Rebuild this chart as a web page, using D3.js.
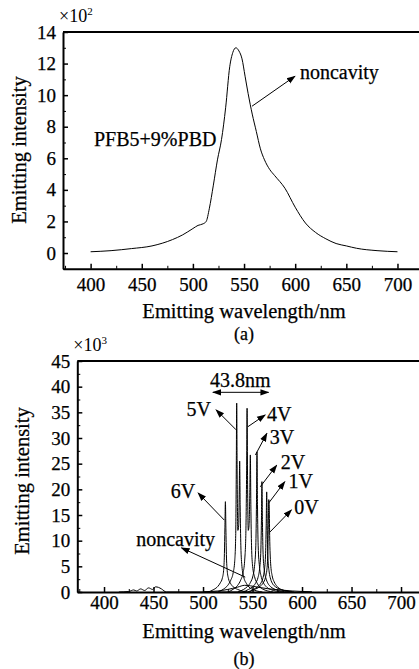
<!DOCTYPE html>
<html>
<head>
<meta charset="utf-8">
<script src="https://cdn.jsdelivr.net/npm/d3@7"></script>
<style>
  body { margin: 0; background: #fff; }
</style>
</head>
<body>
<div id="chart"></div>
<script>
/* two emission spectra: (a) noncavity, (b) cavity at different voltages */

// (a) noncavity spectrum, x10^2
const wlA  = [400, 420, 440, 460, 480, 490, 500, 505, 510, 513, 516, 520, 524, 528, 532, 536, 539, 542, 545, 548, 551, 554, 558, 562, 566, 570, 575, 580, 590, 600, 610, 620, 630, 640, 650, 660, 680, 700];
const valA = [0.08, 0.15, 0.28, 0.45, 0.85, 1.15, 1.55, 1.75, 1.85, 2.0, 2.8, 4.3, 5.9, 7.2, 9.2, 11.8, 12.7, 13.0, 12.8, 12.3, 11.2, 10.1, 8.8, 7.7, 6.6, 5.9, 5.3, 4.9, 4.1, 2.9, 1.9, 1.3, 0.9, 0.6, 0.45, 0.3, 0.15, 0.08];

// (b) cavity spectra, x10^3
const wl6 = [505, 511, 515, 517.5, 519.5, 520.8, 521.6, 522.1, 522.6, 523.1, 523.6, 524.4, 525.7, 527.7, 530.5, 535, 545];
const v6  = [0, 0.5, 1.1, 1.8, 2.7, 4.2, 7.5, 12.5, 17.6, 12.3, 7.3, 4.2, 2.6, 1.7, 1.0, 0.5, 0];
const wl5 = [515, 521, 525, 528, 530.5, 532, 533, 533.6, 534, 534.5, 535.2, 536, 536.6, 537, 537.5, 538.2, 539.3, 541, 544, 549, 560];
const v5  = [0, 0.6, 1.3, 2.3, 3.8, 6, 11, 24, 36.8, 22, 12, 13, 19.5, 25.5, 17, 9, 5, 3, 1.6, 0.6, 0];
const wl4 = [525, 531, 535, 538, 540.5, 542, 543.2, 544, 544.5, 545, 545.7, 546.5, 547.3, 547.8, 548.3, 549, 550.1, 552, 555, 560, 571];
const v4  = [0, 0.6, 1.3, 2.3, 3.8, 6, 11, 23, 35.8, 21, 12, 13, 20, 26.7, 17, 9, 5, 3, 1.6, 0.6, 0];
const wl3 = [535, 541, 545, 548, 550.5, 552, 553.3, 554, 554.5, 555, 555.7, 557, 558.5, 560.5, 563.5, 568, 580];
const v3  = [0, 0.5, 1.1, 1.9, 3.2, 5, 9, 17.5, 27.3, 17, 9, 5, 3.2, 2.0, 1.1, 0.5, 0];
const wl2 = [540, 546, 550, 553, 555.5, 557, 558.3, 559, 559.5, 560, 560.7, 562, 563.5, 565.5, 568.5, 573, 585];
const v2  = [0, 0.5, 1.0, 1.7, 2.8, 4.3, 7.5, 14, 21.5, 13.7, 7.3, 4.1, 2.7, 1.7, 1.0, 0.5, 0];
const wl1 = [545, 551, 555, 558, 560.3, 561.8, 563.1, 563.8, 564.3, 564.8, 565.5, 566.8, 568.3, 570.3, 573.3, 578, 590];
const v1  = [0, 0.5, 1.0, 1.6, 2.6, 4, 7, 13, 19.5, 13, 6.8, 3.9, 2.5, 1.6, 1.0, 0.5, 0];
const wl0 = [415, 425, 430, 433, 437, 441, 445, 449, 452, 455, 458, 463, 545, 552, 557, 560.5, 563, 564.6, 565.6, 566.1, 566.4, 566.8, 567.3, 568.3, 569.8, 571.8, 574.8, 579, 592];
const v0  = [0, 0.1, 0.4, 0.2, 0.6, 0.3, 0.8, 0.5, 1.0, 0.9, 0.6, 0, 0, 0.5, 1.0, 1.7, 2.8, 4.5, 9, 15.5, 18, 17, 11, 5.5, 3.2, 2.0, 1.1, 0.5, 0];
const wlNb = [500, 515, 525, 535, 542, 548, 555, 565, 575, 590, 610];
const vNb  = [0.05, 0.2, 0.5, 0.95, 1.3, 1.2, 0.95, 0.65, 0.45, 0.2, 0.05];

const xTicks = [400, 450, 500, 550, 600, 650, 700];
const xMinor = [375, 425, 475, 525, 575, 625, 675, 725];
const yTicksA = [0, 2, 4, 6, 8, 10, 12, 14];
const yTicksB = [0, 5, 10, 15, 20, 25, 30, 35, 40, 45];
const voltLabels = ["0V", "1V", "2V", "3V", "4V", "5V", "6V"];

const FONT = "Liberation Serif";
const width = 419, height = 669;
const svg = d3.select("#chart").append("svg")
    .attr("width", width)
    .attr("height", height)
    .attr("font-family", FONT)
    .style("display", "block");

svg.append("defs").append("marker")
    .attr("id", "head")
    .attr("viewBox", "0 0 10 10")
    .attr("refX", 9).attr("refY", 5)
    .attr("markerWidth", 9).attr("markerHeight", 9)
    .attr("markerUnits", "userSpaceOnUse")
    .attr("orient", "auto-start-reverse")
    .append("path")
    .attr("d", "M0,1.5 L10,5 L0,8.5 Z")
    .attr("fill", "#000");

const zip = (xs, ys) => xs.map((d, i) => [d, ys[i]]);

// scanned look: text is a bit heavy
const ink = t => t.attr("fill", "#000").attr("stroke", "#000").attr("stroke-width", 0.25);

function panel(cfg) {
    const x = d3.scaleLinear().domain(cfg.xDomain).range(cfg.xRange);
    const y = d3.scaleLinear().domain(cfg.yDomain).range(cfg.yRange);
    const g = svg.append("g");
    const x0 = cfg.xRange[0], yb = cfg.yRange[0], yt = cfg.yRange[1];

    // frame: top line
    g.append("line")
        .attr("x1", x0).attr("x2", width + 5)
        .attr("y1", yt).attr("y2", yt)
        .attr("stroke", "#000").attr("stroke-width", 2);

    g.append("g")
        .attr("transform", `translate(0,${yb})`)
        .call(d3.axisBottom(x).tickValues(xMinor).tickFormat("").tickSize(-3).tickSizeOuter(0))
        .call(a => a.select(".domain").remove());

    g.append("g")
        .attr("transform", `translate(0,${yb})`)
        .call(d3.axisBottom(x).tickValues(xTicks).tickSize(-5).tickSizeOuter(0).tickPadding(cfg.xPad))
        .attr("font-family", FONT).attr("font-size", 19)
        .call(a => a.select(".domain").attr("stroke-width", 2))
        .call(a => a.selectAll(".tick line").attr("stroke-width", 1.5))
        .call(a => ink(a.selectAll("text")));

    g.append("g")
        .attr("transform", `translate(${x0},0)`)
        .call(d3.axisLeft(y).tickValues(cfg.yMinor).tickFormat("").tickSize(-3).tickSizeOuter(0))
        .call(a => a.select(".domain").remove());

    g.append("g")
        .attr("transform", `translate(${x0},0)`)
        .call(d3.axisLeft(y).tickValues(cfg.yTicks).tickSize(-5).tickSizeOuter(0).tickPadding(7))
        .attr("font-family", FONT).attr("font-size", 19)
        .call(a => a.select(".domain").attr("stroke-width", 2))
        .call(a => a.selectAll(".tick line").attr("stroke-width", 1.5))
        .call(a => ink(a.selectAll("text")));

    const line = d3.line().x(d => x(d[0])).y(d => y(d[1])).curve(d3.curveMonotoneX);
    g.append("g").selectAll("path")
        .data(cfg.series)
        .join("path")
        .attr("d", line)
        .attr("fill", "none")
        .attr("stroke", "#000")
        .attr("stroke-width", 1);

    // multiplier
    const mult = g.append("text")
        .attr("x", x0 - 4).attr("y", yt - 10)
        .attr("font-size", 18);
    mult.append("tspan").text("\u00d710");
    mult.append("tspan").text(cfg.power).attr("font-size", 11).attr("dy", -7);

    // axis titles
    ink(g.append("text")
        .attr("x", cfg.titleX).attr("y", cfg.xTitleY)
        .attr("text-anchor", "middle")
        .attr("font-size", 20.5)
        .text("Emitting wavelength/nm"));
    ink(g.append("text")
        .attr("transform", `translate(${cfg.yTitleX},${cfg.yTitleY}) rotate(-90)`)
        .attr("text-anchor", "middle")
        .attr("font-size", 20.5)
        .text("Emitting intensity"));
    ink(g.append("text")
        .attr("x", cfg.titleX).attr("y", cfg.capY)
        .attr("text-anchor", "middle")
        .attr("font-size", 18)
        .text(cfg.caption));

    // annotations
    for (const n of cfg.notes) {
        ink(g.append("text")
            .attr("x", x(n.tx)).attr("y", y(n.ty))
            .attr("text-anchor", n.anchor || "start")
            .attr("font-size", 20)
            .text(n.text));
        if (n.from) {
            g.append("line")
                .attr("x1", x(n.from[0])).attr("y1", y(n.from[1]))
                .attr("x2", x(n.to[0])).attr("y2", y(n.to[1]))
                .attr("stroke", "#000").attr("stroke-width", 1)
                .attr("marker-end", "url(#head)")
                .attr("marker-start", n.both ? "url(#head)" : null);
        }
    }
}

panel({
    xDomain: [373, 723], xRange: [63, 421],
    yDomain: [-1, 14], yRange: [268.8, 32],
    yTicks: yTicksA, yMinor: [-1, 1, 3, 5, 7, 9, 11, 13],
    xPad: 9, power: "2",
    series: [zip(wlA, valA)],
    titleX: 244, xTitleY: 318, yTitleX: 26, yTitleY: 150, capY: 340, caption: "(a)",
    notes: [
        { text: "PFB5+9%PBD", tx: 403.3, ty: 6.75 },
        { text: "noncavity", tx: 604.7, ty: 11.05, from: [557.8, 9.3], to: [599.8, 11.2] }
    ]
});

panel({
    xDomain: [373, 723], xRange: [77.3, 423.8],
    yDomain: [0, 45], yRange: [592, 361],
    yTicks: yTicksB, yMinor: [2.5, 7.5, 12.5, 17.5, 22.5, 27.5, 32.5, 37.5, 42.5],
    xPad: 3, power: "3",
    series: [zip(wlNb, vNb), zip(wl0, v0), zip(wl1, v1), zip(wl2, v2), zip(wl3, v3), zip(wl4, v4), zip(wl5, v5), zip(wl6, v6)],
    titleX: 244, xTitleY: 638, yTitleX: 29, yTitleY: 481, capY: 665, caption: "(b)",
    notes: [
        { text: "43.8nm", tx: 537.7, ty: 40.0, anchor: "middle", from: [510, 38.9], to: [566.2, 38.9], both: true },
        { text: voltLabels[5], tx: 507.9, ty: 34.3, anchor: "end", from: [533.4, 31.6], to: [513.2, 35.5] },
        { text: voltLabels[4], tx: 564.5, ty: 33.3, from: [545.3, 32.2], to: [562.8, 34.5] },
        { text: voltLabels[3], tx: 567.4, ty: 28.8, from: [552.9, 26.7], to: [564.5, 30.9] },
        { text: voltLabels[2], tx: 578.4, ty: 24.0, from: [557.8, 20.5], to: [574.4, 24.7] },
        { text: voltLabels[1], tx: 586.3, ty: 20.3, from: [566.2, 17.3], to: [582.6, 21.5] },
        { text: voltLabels[0], tx: 592.2, ty: 15.2, from: [567.7, 11.7], to: [589.3, 16.0] },
        { text: voltLabels[6], tx: 492.0, ty: 18.3, anchor: "end", from: [521.5, 14.0], to: [495, 19.3] },
        { text: "noncavity", tx: 432.5, ty: 9.0, from: [542.6, 2.9], to: [478.2, 8.6] }
    ]
});
</script>
</body>
</html>
